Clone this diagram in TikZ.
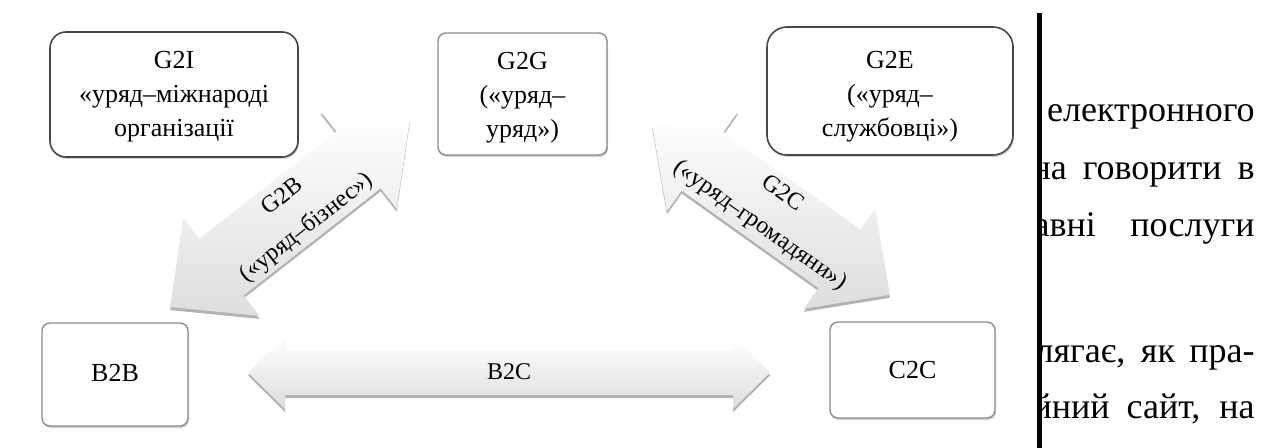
\documentclass[tikz,border=0pt]{standalone}
\usepackage{fontspec}
\setmainfont{Liberation Serif}
\usetikzlibrary{shadows}

% double-headed block arrow: centre, angle, half length, head half width, shaft half width, head length
\newcommand\blockarrow[6]{%
  \begin{scope}[shift={#1}]
    \fill[arrowedge, yshift=-1.5pt, rotate=#2]
      (-#3,0) -- ({-#3+#6},{-#4}) -- ({-#3+#6},{-#5}) -- ({#3-#6},{-#5}) -- ({#3-#6},{-#4})
      -- (#3,0) -- ({#3-#6},{#4}) -- ({#3-#6},{#5}) -- ({-#3+#6},{#5}) -- ({-#3+#6},{#4}) -- cycle;
    \shade[arrowbody, rotate=#2]
      (-#3,0) -- ({-#3+#6},{-#4}) -- ({-#3+#6},{-#5}) -- ({#3-#6},{-#5}) -- ({#3-#6},{-#4})
      -- (#3,0) -- ({#3-#6},{#4}) -- ({#3-#6},{#5}) -- ({-#3+#6},{#5}) -- ({-#3+#6},{#4}) -- cycle;
  \end{scope}}

\tikzset{
  every node/.style={text=black},
  boxshadow/.style={drop shadow={shadow xshift=0.5pt, shadow yshift=-1pt, fill=black!40, opacity=0.45}},
  bigbox/.style={draw=black!72, line width=0.8pt, fill=white, rounded corners=8pt,
                 inner sep=0pt, boxshadow},
  smallbox/.style={draw=black!45, line width=0.7pt, fill=white, rounded corners=4pt,
                   inner sep=0pt, boxshadow},
  boxtext/.style={align=center, inner sep=0pt, font=\fontsize{13}{17}\selectfont},
  arrowbody/.style={top color=white, bottom color=black!13, draw=none},
  arrowedge/.style={fill=black!30},
  arrowlabel/.style={align=center, font=\fontsize{12}{19.5}\selectfont, inner sep=0pt},
  sidetext/.style={font=\fontsize{18}{20}\selectfont, inner sep=0pt, anchor=base east},
  marginrule/.style={line width=2.3pt, black},
}

\begin{document}
\begin{tikzpicture}[x=0.5pt, y=-0.5pt]
\useasboundingbox (0,0) rectangle (1277,448);

% block arrows between the parties
\blockarrow{(509,372.5)}{0}{261}{36.5}{22.5}{37}
\blockarrow{(290,213.5)}{38}{152}{62}{36}{65}
\blockarrow{(771,210)}{-35.5}{146}{61.5}{36}{62}

% parties
\node[bigbox, minimum width=124pt, minimum height=62.5pt] (g2i) at (174,94.5) {};
\node[smallbox, minimum width=84.5pt, minimum height=61pt] (g2g) at (522.5,94) {};
\node[bigbox, rounded corners=10pt, minimum width=123pt, minimum height=64pt] (g2e) at (890,91) {};
\node[smallbox, minimum width=73pt, minimum height=51.5pt] (b2b) at (115,374.5) {};
\node[smallbox, minimum width=82.5pt, minimum height=48pt] (c2c) at (912.5,370) {};

\node[boxtext] (g2i-text) at ([yshift=-1.2pt]g2i.center) {G2I\\«уряд–міжнароді\\організації};
\node[boxtext] (g2g-text) at ([yshift=-2pt]g2g.center) {G2G\\(«уряд–\\уряд»)};
\node[boxtext] (g2e-text) at ([yshift=-3pt]g2e.center) {G2E\\(«уряд–\\службовці»)};
\node[boxtext] (b2b-text) at ([yshift=0.8pt]b2b.center) {B2B};
\node[boxtext] (c2c-text) at (c2c.center) {C2C};

% arrow labels
\node[arrowlabel] (b2c) at (509,372) {B2C};
\node[arrowlabel, rotate=38] (g2b) at (295,213) {G2B\\(«уряд–бізнес»)};
\node[arrowlabel, rotate=-35.5] (g2c) at (771,210) {G2C\\(«уряд–громадяни»)};

% running text of the page, cut off by the figure margin
\begin{scope}
  \clip (1041,0) rectangle (1277,448);
  \node[sidetext] (t1) at (1255,122) {електронного};
  \node[sidetext] (t2) at (1255,180) {\makebox[111.5pt][s]{на говорити в}};
  \node[sidetext] (t3) at (1255,237) {\makebox[110.5pt][s]{авні послуги}};
  \node[sidetext] (t4) at (1255,362) {\makebox[109.5pt][s]{лягає, як пра-}};
  \node[sidetext] (t5) at (1255,418) {\makebox[111pt][s]{йний сайт, на}};
\end{scope}

% margin rule
\coordinate (ruletop) at (1039.7,13);
\coordinate (rulebot) at (1039.7,448);
\draw[marginrule] (ruletop) -- (rulebot);
\end{tikzpicture}
\end{document}
